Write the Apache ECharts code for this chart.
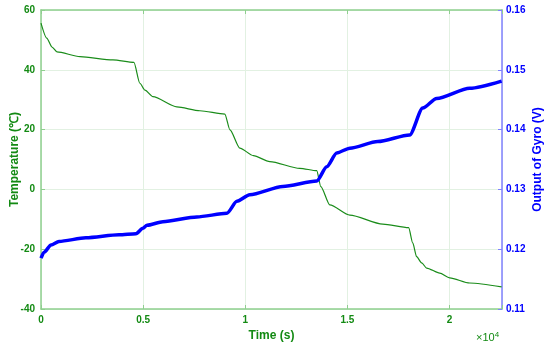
<!DOCTYPE html>
<html>
<head>
<meta charset="utf-8">
<script src="https://cdn.jsdelivr.net/npm/echarts@6/dist/echarts.min.js"></script>
<style>
  html, body { margin: 0; padding: 0; background: #fff; }
  #chart { width: 550px; height: 350px; }
</style>
</head>
<body>
<div id="chart"></div>
<script>
// temperature curve (time in s, temperature in ℃)
const tempTime = [0, 280, 540, 780, 1910, 3520, 4550, 4840, 5090, 5480, 6650, 7780, 9000,
  9250, 9735, 10400, 11200, 12670, 13500, 13700, 14140, 15120, 16730, 18000,
  18200, 18390, 18640, 18880, 19520, 20010, 20990, 22550]
const tempValue = [55.6, 50.6, 47.6, 46, 44.4, 43.3, 42.5, 35.5, 33.2, 31, 27.6, 26.3, 25.2,
  19.9, 13.8, 11.3, 9.3, 7.05, 6.25, 0.9, -5.2, -8.6, -11.6, -12.8,
  -17.9, -22.5, -24.6, -26.3, -28, -29.6, -31.3, -32.6]

// gyro output curve (time in s, output in V)
const gyroTime = [0, 150, 490, 880, 2200, 3820, 4650, 4990, 5190, 5970, 7630, 9100, 9590, 10220,
  11840, 13500, 13990, 14480, 15120, 16490, 18050, 18690, 19370, 20990, 22550]
const gyroValue = [0.1185, 0.1195, 0.1207, 0.1213, 0.1219, 0.1224, 0.1226, 0.1235, 0.124, 0.1246,
  0.1254, 0.126, 0.128, 0.1291, 0.1305, 0.1314, 0.1338, 0.1361, 0.1369, 0.138, 0.1391, 0.1436,
  0.1452, 0.1469, 0.1481]

const timeTicks = ['0', '0.5', '1', '1.5', '2']

const green = '#138a13'
const blue = '#0000ff'
const font = 'Liberation Sans'

const chart = echarts.init(document.getElementById('chart'))
chart.setOption({
  animation: false,
  grid: { left: 41, right: 48, top: 10, bottom: 41, outerBoundsMode: 'none', containLabel: false },
  xAxis: [
    {
      type: 'value',
      min: 0,
      max: 22570,
      interval: 5000,
      name: 'Time (s)',
      nameLocation: 'middle',
      nameGap: 16,
      nameTextStyle: { color: green, fontWeight: 'bold', fontSize: 12, fontFamily: font },
      axisLine: { onZero: false, lineStyle: { color: '#8fcf8f', width: 1.5 } },
      axisTick: { inside: true, length: 4, lineStyle: { color: '#8fcf8f' } },
      axisLabel: {
        color: green, fontWeight: 'bold', fontSize: 10, fontFamily: font, margin: 6,
        formatter: v => timeTicks[Math.round(v / 5000)] || ''
      },
      splitLine: { show: true, lineStyle: { color: '#e2f1e2' } }
    },
    {
      type: 'value',
      position: 'top',
      min: 0,
      max: 22570,
      interval: 5000,
      axisLine: { show: true, onZero: false, lineStyle: { color: '#8fcf8f', width: 1.5 } },
      axisTick: { show: true, inside: true, length: 4, lineStyle: { color: '#8fcf8f' } },
      axisLabel: { show: false },
      splitLine: { show: false }
    }
  ],
  yAxis: [
    {
      type: 'value',
      min: -40,
      max: 60,
      interval: 20,
      name: 'Temperature (℃)',
      nameLocation: 'middle',
      nameGap: 20,
      nameMoveOverlap: false,
      nameTextStyle: { color: green, fontWeight: 'bold', fontSize: 12, fontFamily: font },
      axisLine: { show: true, onZero: false, lineStyle: { color: '#8fcf8f', width: 1.5 } },
      axisTick: { show: true, inside: true, length: 4, lineStyle: { color: '#8fcf8f' } },
      axisLabel: { color: green, fontWeight: 'bold', fontSize: 10, fontFamily: font, margin: 6 },
      splitLine: { show: true, lineStyle: { color: '#e2f1e2' } }
    },
    {
      type: 'value',
      min: 0.11,
      max: 0.16,
      interval: 0.01,
      name: 'Output of Gyro (V)',
      nameLocation: 'middle',
      nameGap: 30,
      nameMoveOverlap: false,
      nameTextStyle: { color: blue, fontWeight: 'bold', fontSize: 12, fontFamily: font },
      axisLine: { show: true, onZero: false, lineStyle: { color: '#8080ff', width: 1.5 } },
      axisTick: { show: true, inside: true, length: 4, lineStyle: { color: '#8080ff' } },
      axisLabel: {
        color: blue, fontWeight: 'bold', fontSize: 10, fontFamily: font, margin: 4,
        formatter: v => v.toFixed(2)
      },
      splitLine: { show: false }
    }
  ],
  graphic: [
    {
      type: 'text',
      left: 476,
      top: 331,
      style: {
        text: '×10{s|4}',
        fill: green,
        font: '11px "Liberation Sans"',
        rich: { s: { fontSize: 8, verticalAlign: 'top', fill: green, padding: [0, 0, 6, 0] } }
      }
    }
  ],
  series: [
    {
      name: 'Temperature',
      type: 'line',
      xAxisIndex: 0,
      yAxisIndex: 0,
      showSymbol: false,
      smooth: 0.25,
      smoothMonotone: 'x',
      lineStyle: { color: '#1a8c1a', width: 1.2 },
      data: tempTime.map((t, i) => [t, tempValue[i]])
    },
    {
      name: 'Gyro',
      type: 'line',
      xAxisIndex: 0,
      yAxisIndex: 1,
      showSymbol: false,
      smooth: 0.25,
      smoothMonotone: 'x',
      lineStyle: { color: blue, width: 3.5 },
      data: gyroTime.map((t, i) => [t, gyroValue[i]])
    }
  ]
})
</script>
</body>
</html>
